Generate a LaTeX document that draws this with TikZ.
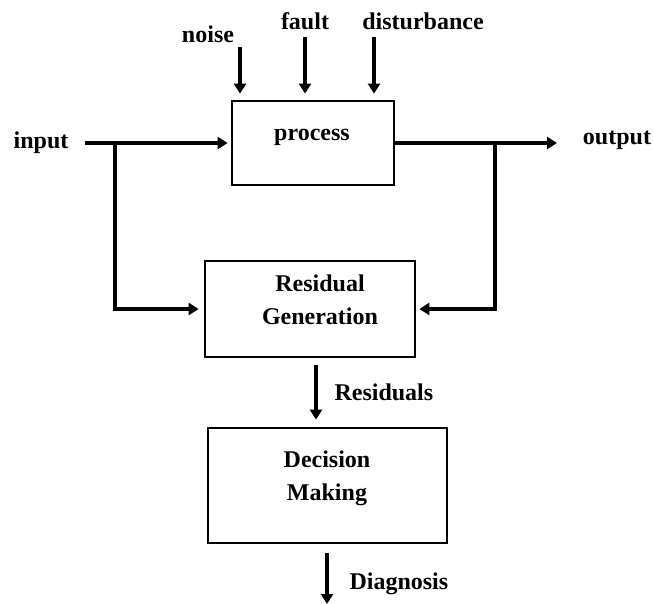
\documentclass[tikz,border=0pt]{standalone}
\usepackage{fontspec}
\setmainfont{Liberation Serif}
\usetikzlibrary{arrows.meta}

\begin{document}
\begin{tikzpicture}[x=1pt, y=-1pt,
		font = \bfseries\fontsize{24}{33}\selectfont,
		block/.style = {draw, line width=2.8pt, inner sep=0pt},
		flow/.style = {line width=3.8pt, -{Triangle[length=10pt, width=12pt]}},
		wire/.style = {line width=3.8pt}]
		\useasboundingbox (0, 0) rectangle (654, 604);
		% boxes
		\node[block, minimum width=162pt, minimum height=84pt] (process) at (313, 143) {};
		\node[block, minimum width=210pt, minimum height=96pt] (resgen) at (310, 309) {};
		\node[block, minimum width=239pt, minimum height=115pt] (decide) at (327.5, 485.5) {};
		\node (process text) at (312, 137) {process};
		\node[align=center] (resgen text) at (320, 300) {Residual\\Generation};
		\node[align=center] (decide text) at (327, 478) {Decision\\Making};
		% labels
		\node (input) at (41, 143) {input};
		\node (output) at (617, 140) {output};
		\node (noise) at (208, 34) {noise};
		\node (fault) at (305, 21) {fault};
		\node (disturbance) at (423, 21) {disturbance};
		\node[right] (residuals) at (331, 392) {Residuals};
		\node[right] (diagnosis) at (346, 584) {Diagnosis};
		% connector ends
		\coordinate (in) at (85, 143);
		\coordinate (split in) at (115, 143);
		\coordinate (out) at (557, 143);
		\coordinate (split out) at (495, 143);
		\coordinate (noise in) at (240, 47);
		\coordinate (fault in) at (305, 37);
		\coordinate (dist in) at (374, 37);
		\coordinate (res top) at (316, 365);
		\coordinate (diag top) at (327, 553);
		\coordinate (diag end) at (327, 604);
		% arrows
		\draw[flow, shorten >=3pt] (in) -- (process.west);
		\draw[flow, shorten >=5pt] (split in) |- (resgen.west);
		\draw[wire] (process.east) -- (split out);
		\draw[flow] (split out) -- (out);
		\draw[flow, shorten >=3pt] (split out) |- (resgen.east);
		\draw[flow, shorten >=6pt] (noise in) -- (noise in |- process.north);
		\draw[flow, shorten >=6pt] (fault in) -- (fault in |- process.north);
		\draw[flow, shorten >=6pt] (dist in) -- (dist in |- process.north);
		\draw[flow, shorten >=7pt] (res top) -- (res top |- decide.north);
		\draw[flow] (diag top) -- (diag end);
	\end{tikzpicture}
\end{document}
